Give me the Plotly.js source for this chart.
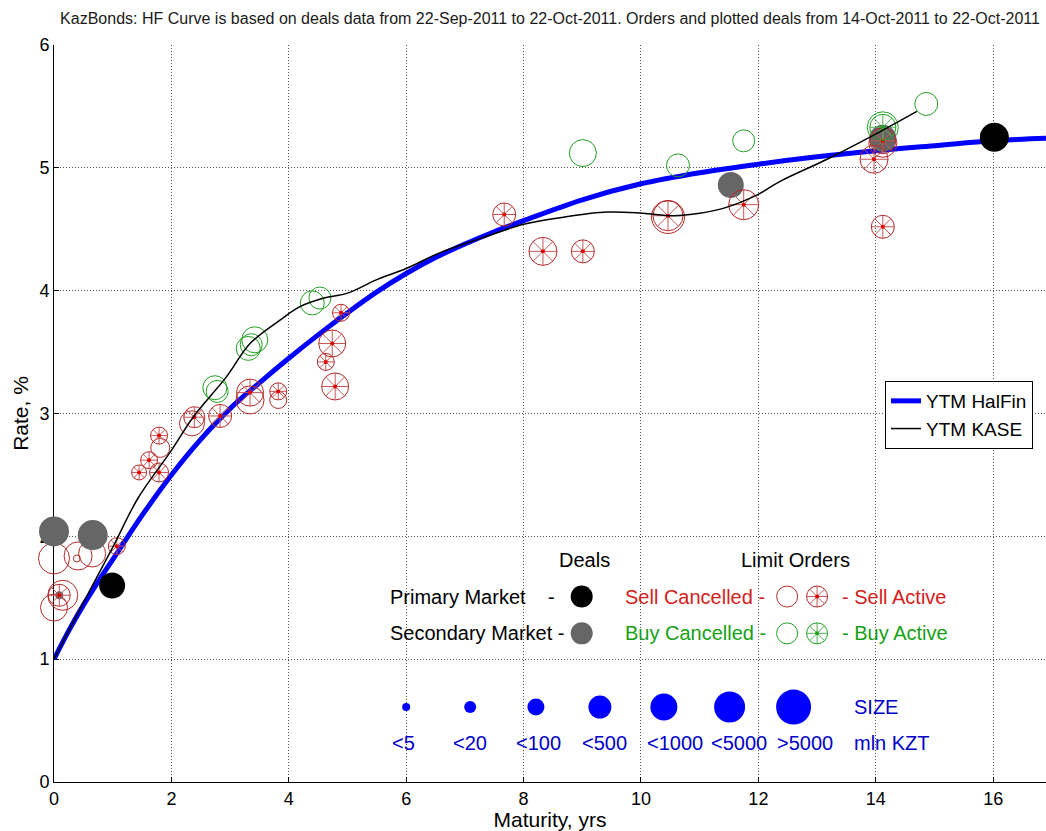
<!DOCTYPE html>
<html>
<head>
<meta charset="utf-8">
<script src="https://cdn.plot.ly/plotly-3.0.1.min.js"></script>
<style>html,body{margin:0;padding:0;background:#fff;}#chart{width:1046px;height:831px;}</style>
</head>
<body>
<div id="chart"></div>
<script>
// ---- Curves ----
const halfinX = [0,0.25,0.5,0.75,1,1.5,2,2.5,3,3.5,4,4.5,5,5.5,6,6.5,7,7.5,8,9,10,11,12,13,14,15,16,16.9];
const halfinY = [1.00,1.23,1.44,1.63,1.81,2.17,2.50,2.79,3.04,3.25,3.45,3.64,3.82,3.99,4.14,4.27,4.38,4.48,4.57,4.74,4.87,4.96,5.03,5.09,5.14,5.18,5.22,5.24];
const kaseX = [0,0.5,1,1.43,2,2.37,2.94,3.34,3.85,4.19,4.6,5,5.5,6,6.58,7.3,8,8.7,9.42,10.03,10.55,11,11.4,11.98,12.37,13.17,13.9,14.7];
const kaseY = [1.00,1.46,1.91,2.31,2.70,2.97,3.30,3.57,3.76,3.87,3.94,3.98,4.09,4.18,4.31,4.43,4.54,4.60,4.64,4.63,4.61,4.63,4.67,4.78,4.89,5.07,5.25,5.46];

// ---- Deals ----
const primaryX = [0.99, 16.02];
const primaryY = [1.60, 5.25];
const primarySize = [26, 29];
const secondaryX = [0.0, 0.66, 11.53, 14.12, 0.09];
const secondaryY = [2.04, 2.01, 4.86, 5.24, 1.52];
const secondarySize = [30, 30, 26, 27, 8];

// ---- Limit orders ----
const sellCancelledX = [0.0, 0.41, 0.65, 0.39, 0.0, 0.15, 1.81, 2.35, 3.34, 3.82, 10.46, 14.12];
const sellCancelledY = [1.82, 1.84, 1.86, 1.82, 1.42, 1.52, 2.72, 2.92, 3.11, 3.11, 4.60, 5.20];
const sellCancelledSize = [31, 28, 27, 7, 27, 30, 19, 25, 28, 17, 33, 28];
const sellActiveX = [0.09, 1.07, 1.79, 1.62, 1.45, 1.79, 2.39, 2.83, 3.34, 3.82, 4.89, 4.74, 4.63, 4.79, 7.67, 8.33, 9.01, 10.46, 11.75, 13.97, 14.12, 14.12];
const sellActiveY = [1.52, 1.92, 2.82, 2.62, 2.52, 2.52, 2.97, 2.98, 3.17, 3.18, 3.82, 3.57, 3.42, 3.22, 4.62, 4.32, 4.32, 4.61, 4.70, 5.07, 4.52, 5.22];
const sellActiveSize = [22, 17, 17, 17, 15, 19, 21, 23, 27, 17, 17, 27, 17, 27, 23, 28, 23, 30, 30, 28, 23, 26];
const buyCancelledX = [2.74, 2.78, 3.31, 3.36, 3.42, 4.40, 4.53, 9.01, 10.63, 11.75, 14.86, 14.12];
const buyCancelledY = [3.21, 3.18, 3.53, 3.56, 3.60, 3.90, 3.94, 5.12, 5.02, 5.22, 5.52, 5.33];
const buyCancelledSize = [24, 22, 24, 22, 26, 24, 22, 27, 23, 22, 23, 31];
const buyActiveX = [14.12];
const buyActiveY = [5.33];
const buyActiveSize = [26];

// ---- Size key ----
const sizeLabels = ['<5','<20','<100','<500','<1000','<5000','>5000'];
const sizeKeyDiam = [8, 12, 17, 23, 27, 31, 35];

const xTicks = [0,2,4,6,8,10,12,14,16];
const yTicks = [0,1,2,3,4,5,6];

// ---------------- styling / layout ----------------
const FONT = 'Liberation Sans, Arial, sans-serif';
const RED = '#b52a2a', RED_SPOKE = '#c85555', RED_DOT = '#e00000', RED_TXT = '#d42020';
const GREEN = '#22a022', GREEN_SPOKE = '#4fb54f', GREEN_TXT = '#16a016';
const BLUE = '#0000ff', BLUE_TXT = '#0000c8';
const SPOKE_K = 0.707;

const key = {
  dealsX: 8.99, rowPrimaryY: 1.51, rowSecondaryY: 1.21, headY: 1.81,
  openX: 12.49, activeX: 13.0,
  sizeX: [6.0, 7.09, 8.21, 9.30, 10.39, 11.51, 12.6], sizeY: 0.61,
  labelX: [5.95, 7.09, 8.26, 9.38, 10.58, 11.67, 12.79], labelY: 0.32
};

function activeTraces(xs, ys, sz, col, spoke, dot) {
  const base = {type:'scatter', mode:'markers', x:xs, y:ys, hoverinfo:'skip', showlegend:false, cliponaxis:false};
  const small = sz.map(s=>s*SPOKE_K);
  return [
    Object.assign({}, base, {marker:{symbol:'cross-thin-open', size:small, opacity:1, color:spoke, line:{width:1, color:spoke}}}),
    Object.assign({}, base, {marker:{symbol:'x-thin-open', size:small, opacity:1, color:spoke, line:{width:1, color:spoke}}}),
    Object.assign({}, base, {marker:{symbol:'circle-open', size:sz, opacity:1, color:col, line:{width:1, color:col}}}),
    Object.assign({}, base, {marker:{symbol:'circle', size:4, opacity:1, color:dot, line:{width:0}}})
  ];
}
function openTrace(xs, ys, sz, col) {
  return {type:'scatter', mode:'markers', x:xs, y:ys, hoverinfo:'skip', showlegend:false, cliponaxis:false,
    marker:{symbol:'circle-open', size:sz, opacity:1, color:col, line:{width:1, color:col}}};
}
function filledTrace(xs, ys, sz, col) {
  return {type:'scatter', mode:'markers', x:xs, y:ys, hoverinfo:'skip', showlegend:false, cliponaxis:false,
    marker:{symbol:'circle', size:sz, opacity:1, color:col, line:{width:0}}};
}

const traces = [];
traces.push({type:'scatter', mode:'lines', name:'YTM HalFin', x:halfinX, y:halfinY,
  line:{color:BLUE, width:5, shape:'spline'}, hoverinfo:'skip'});
traces.push(openTrace(sellCancelledX, sellCancelledY, sellCancelledSize, RED));
traces.push(openTrace(buyCancelledX, buyCancelledY, buyCancelledSize, GREEN));
traces.push(filledTrace(secondaryX, secondaryY, secondarySize, '#666666'));
traces.push(filledTrace(primaryX, primaryY, primarySize, '#000000'));
activeTraces(sellActiveX, sellActiveY, sellActiveSize, RED, RED_SPOKE, RED_DOT).forEach(t=>traces.push(t));
activeTraces(buyActiveX, buyActiveY, buyActiveSize, GREEN, GREEN_SPOKE, GREEN).forEach(t=>traces.push(t));

// key markers
traces.push(filledTrace([key.dealsX], [key.rowPrimaryY], [22], '#000000'));
traces.push(filledTrace([key.dealsX], [key.rowSecondaryY], [22], '#666666'));
traces.push(openTrace([key.openX], [key.rowPrimaryY], [21], RED));
traces.push(openTrace([key.openX], [key.rowSecondaryY], [21], GREEN));
activeTraces([key.activeX], [key.rowPrimaryY], [21], RED, RED_SPOKE, RED_DOT).forEach(t=>traces.push(t));
activeTraces([key.activeX], [key.rowSecondaryY], [21], GREEN, GREEN_SPOKE, GREEN).forEach(t=>traces.push(t));
traces.push(filledTrace(key.sizeX, key.sizeX.map(()=>key.sizeY), sizeKeyDiam, BLUE));

traces.push({type:'scatter', mode:'lines', name:'YTM KASE', x:kaseX, y:kaseY,
  line:{color:'#000000', width:1.5, shape:'spline'}, hoverinfo:'skip'});

const ann = [];
function txt(t, x, y, color, anchor) {
  ann.push({text:t, x:x, y:y, xref:'x', yref:'y', showarrow:false, xanchor:anchor||'center', yanchor:'middle',
    font:{family:FONT, size:20, color:color}});
}
txt('Deals', 9.04, key.headY, '#000');
txt('Limit Orders', 12.64, key.headY, '#000');
txt('Primary Market', 5.69, key.rowPrimaryY, '#000', 'left');
txt('-', 8.47, key.rowPrimaryY, '#000');
txt('Secondary Market -', 5.69, key.rowSecondaryY, '#000', 'left');
txt('Sell Cancelled -', 9.69, key.rowPrimaryY, RED_TXT, 'left');
txt('- Sell Active', 13.39, key.rowPrimaryY, RED_TXT, 'left');
txt('Buy Cancelled -', 9.69, key.rowSecondaryY, GREEN_TXT, 'left');
txt('- Buy Active', 13.39, key.rowSecondaryY, GREEN_TXT, 'left');
txt('SIZE', 13.6, key.sizeY, BLUE_TXT, 'left');
sizeLabels.forEach((s,i)=>txt(s, key.labelX[i], key.labelY, BLUE_TXT));
txt('mln KZT', 13.6, key.labelY, BLUE_TXT, 'left');

const axisCommon = {
  showline:true, linecolor:'#000', linewidth:1, mirror:false, zeroline:false,
  ticks:'inside', ticklen:5, tickcolor:'#000', tickwidth:1,
  showgrid:true, gridcolor:'#555', gridwidth:1, griddash:'1px,2px',
  tickfont:{family:FONT, size:18, color:'#000'}, layer:'below traces', fixedrange:true
};

const layout = {
  width:1046, height:831,
  margin:{l:54, r:0, t:45, b:49, pad:0},
  paper_bgcolor:'#fff', plot_bgcolor:'#fff',
  font:{family:FONT, color:'#000'},
  showlegend:true,
  title:{text:'KazBonds: HF Curve is based on deals data from 22-Sep-2011 to 22-Oct-2011. Orders and plotted deals from 14-Oct-2011 to 22-Oct-2011',
    font:{family:FONT, size:16, color:'#1a1a1a'}, x:550/1046, xanchor:'center', y:1-18/831, yanchor:'middle', xref:'container', yref:'container'},
  xaxis:Object.assign({}, axisCommon, {range:[0,16.9], tickvals:xTicks, ticktext:xTicks.map(String),
    title:{text:'Maturity, yrs', font:{family:FONT, size:21, color:'#000'}, standoff:1}}),
  yaxis:Object.assign({}, axisCommon, {range:[0,6], tickvals:yTicks, ticktext:yTicks.map(String),
    title:{text:'Rate, %', font:{family:FONT, size:21, color:'#000'}, standoff:5}}),
  legend:{x:(885-54)/992, y:(782-381)/737, xanchor:'left', yanchor:'top', bgcolor:'#fff',
    bordercolor:'#000', borderwidth:1, font:{family:FONT, size:19, color:'#000'}, tracegroupgap:0},
  annotations:ann
};

Plotly.newPlot('chart', traces, layout, {displayModeBar:false, staticPlot:true});
</script>
</body>
</html>
